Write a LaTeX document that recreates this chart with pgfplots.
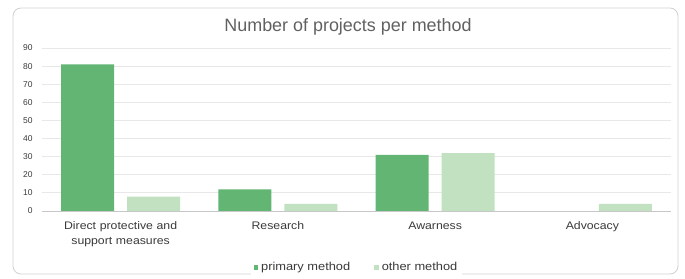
\documentclass[border=0pt]{standalone}
\usepackage{pgfplots}
\pgfplotsset{compat=1.18}
\usepackage{fontspec}
\setmainfont{Liberation Sans}
\newfontfamily\widefont[FakeStretch=1.12]{Liberation Sans}
\definecolor{prim}{HTML}{63B574}
\definecolor{oth}{HTML}{C2E1C0}
\definecolor{gridc}{HTML}{E8E8E8}
\definecolor{txt}{HTML}{3A3A3A}
\begin{document}
\begin{tikzpicture}
\path[use as bounding box] (-42bp,-68bp) rectangle (643bp,211bp);
\draw[rounded corners=8bp, color=black!18, line width=0.8bp] (-29bp,-63bp) rectangle (636bp,203bp);
\node[text=black!62, font=\fontsize{18}{21}\selectfont] at (306bp,184bp) {Number of projects per method};
\begin{axis}[
  at={(0,0)}, anchor=south west,
  scale only axis, width=629bp, height=163bp,
  ybar, bar width=53bp,
  xmin=-0.5, xmax=3.5, ymin=0, ymax=90,
  xtick=data,
  xticklabels={{Direct protective and\\support measures},Research,Awarness,Advocacy},
  xticklabel style={text width=160bp, align=center, font=\widefont\fontsize{11}{15}\selectfont, text=txt, yshift=-7bp},
  major tick length=0pt,
  ytick={0,10,...,90},
  yticklabel style={font=\fontsize{8.5}{10}\selectfont, text=txt, xshift=-6bp},
  /pgf/number format/assume math mode=true,
  ymajorgrids, grid style={gridc, line width=0.8bp},
  axis x line*=bottom, axis y line*=left,
  x axis line style={draw=black!22, line width=0.8bp},
  y axis line style={draw=none},
  legend style={at={(0.5,-0.345)}, anchor=center, draw=none, legend columns=2,
    font=\widefont\fontsize{11.5}{13}\selectfont, text=txt,
    /tikz/every even column/.append style={column sep=22bp},
    /tikz/every odd column/.append style={column sep=1bp}},
  legend image code/.code={\fill[#1] (0bp,-2.5bp) rectangle (4.5bp,2.5bp);},
]
\addplot[fill=prim, draw=none, bar shift=-33bp] coordinates {(0,81) (1,12) (2,31) (3,0)};
\addplot[fill=oth, draw=none, bar shift=33bp] coordinates {(0,8) (1,4) (2,32) (3,4)};
\legend{primary method, other method}
\end{axis}
\end{tikzpicture}
\end{document}
